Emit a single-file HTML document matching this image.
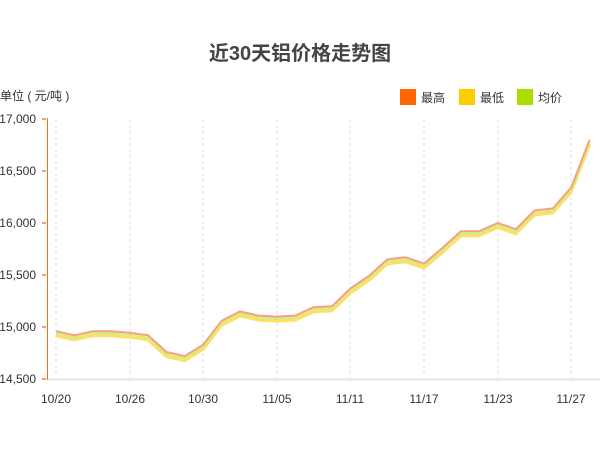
<!DOCTYPE html>
<html><head><meta charset="utf-8"><style>
body{margin:0;background:#fff;}
svg{display:block;font-family:"Liberation Sans","Noto Sans CJK SC",sans-serif;}
</style></head><body>
<svg width="600" height="450" viewBox="0 0 600 450">
<defs><polyline id="s" fill="none" stroke-linejoin="round" points="56,331.2 74.4,335.3 92.8,331.2 111.2,331.2 129.6,332.7 148,335.3 166.4,352 184.8,356.1 203.2,344.7 221.6,320.8 240,311.4 258.4,315.6 276.8,316.6 295.2,315.6 313.6,307.2 332,306.2 350.4,288.5 368.8,276 387.2,259.4 405.6,257.3 424,263.6 442.4,248 460.8,231.3 479.2,231.3 497.6,223 516,229.2 534.4,210.5 552.8,208.4 571.2,187.6 589.6,139.8"/></defs>
<text x="300" y="60" text-anchor="middle" font-size="20" font-weight="bold" fill="#444">近30天铝价格走势图</text>
<text x="0" y="100" font-size="12" fill="#333">单位 ( 元/吨 )</text>
<rect x="400" y="89" width="16" height="16" fill="#ff6600"/><text x="421" y="102" font-size="12" fill="#333">最高</text>
<rect x="459" y="89" width="16" height="16" fill="#ffcc00"/><text x="480" y="102" font-size="12" fill="#333">最低</text>
<rect x="517" y="89" width="16" height="16" fill="#aadd00"/><text x="538" y="102" font-size="12" fill="#333">均价</text>
<g stroke="#ddd" stroke-dasharray="3,3" stroke-width="1">
<line x1="56" y1="119" x2="56" y2="379"/><line x1="130" y1="119" x2="130" y2="379"/><line x1="203" y1="119" x2="203" y2="379"/><line x1="277" y1="119" x2="277" y2="379"/><line x1="350" y1="119" x2="350" y2="379"/><line x1="424" y1="119" x2="424" y2="379"/><line x1="498" y1="119" x2="498" y2="379"/><line x1="571" y1="119" x2="571" y2="379"/>
</g>
<line x1="47" y1="379.5" x2="600" y2="379.5" stroke="#e6e6e6" stroke-width="2"/>
<line x1="47.5" y1="118" x2="47.5" y2="380" stroke="#f07020" stroke-width="1"/>
<g stroke="#f5a070" stroke-width="2">
<line x1="42" y1="119" x2="46" y2="119"/><line x1="42" y1="171" x2="46" y2="171"/><line x1="42" y1="223" x2="46" y2="223"/><line x1="42" y1="275" x2="46" y2="275"/><line x1="42" y1="327" x2="46" y2="327"/><line x1="42" y1="379" x2="46" y2="379"/>
</g>
<g font-size="12" fill="#333" text-anchor="end">
<text x="36" y="123">17,000</text><text x="36" y="175">16,500</text><text x="36" y="227">16,000</text><text x="36" y="279">15,500</text><text x="36" y="331">15,000</text><text x="36" y="383">14,500</text>
</g>
<g font-size="12" fill="#333" text-anchor="middle">
<text x="56" y="403">10/20</text><text x="130" y="403">10/26</text><text x="203" y="403">10/30</text><text x="277" y="403">11/05</text><text x="350" y="403">11/11</text><text x="424" y="403">11/17</text><text x="498" y="403">11/23</text><text x="571" y="403">11/27</text>
</g>
<use href="#s" transform="translate(0,4.5)" stroke="#ffe060" stroke-width="3"/>
<use href="#s" transform="translate(0,2.3)" stroke="#d8ec80" stroke-width="2.5"/>
<use href="#s" stroke="#f8a080" stroke-width="2"/>
</svg>
</body></html>
